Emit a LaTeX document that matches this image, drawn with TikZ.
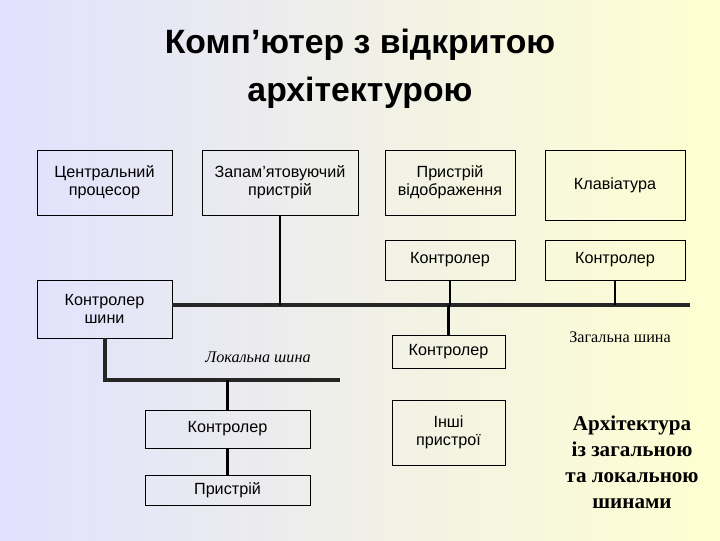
\documentclass[tikz,border=0pt]{standalone}
\usepackage{fontspec}
\setmainfont{Liberation Sans}
\newfontfamily\serif{Liberation Serif}
\begin{document}
\begin{tikzpicture}[x=0.025cm, y=-0.025cm,
  box/.style={draw=black, semithick, align=center, font=\fontsize{11.5}{13}\selectfont, inner sep=0pt},
  bus/.style={line width=2.4pt, draw=black!85},
  link/.style={line width=1.6pt, draw=black}]
\shade[left color=blue!12, right color=yellow!18] (0,0) rectangle (720,540);
\useasboundingbox (0,0) rectangle (720,540);
\node[font=\bfseries\fontsize{24}{34}\selectfont, align=center] (title) at (360,69) {Комп’ютер з відкритою\\архітектурою};
% upper row
\node[box, text width=135*0.025cm, minimum height=65*0.025cm] (cpu) at (104.5,182.5) {Центральний\\процесор};
\node[box, text width=156*0.025cm, minimum height=65*0.025cm] (mem) at (280,182.5) {Запам’ятовуючий\\пристрій};
\node[box, text width=130*0.025cm, minimum height=65*0.025cm] (disp) at (450,182.5) {Пристрій\\відображення};
\node[box, text width=140*0.025cm, minimum height=70*0.025cm] (kbd) at (615,185) {Клавіатура};
\node[box, text width=130*0.025cm, minimum height=40*0.025cm] (cdisp) at (450,260) {Контролер};
\node[box, text width=140*0.025cm, minimum height=40*0.025cm] (ckbd) at (615,260) {Контролер};
\node[box, text width=135*0.025cm, minimum height=58*0.025cm] (cbus) at (104.5,309) {Контролер\\шини};
% lower part
\node[box, text width=113*0.025cm, minimum height=33*0.025cm] (cother) at (448.5,351.5) {Контролер};
\node[box, text width=113*0.025cm, minimum height=65*0.025cm] (other) at (448.5,432.5) {Інші\\пристрої};
\node[box, text width=165*0.025cm, minimum height=38*0.025cm] (cloc) at (227.5,429) {Контролер};
\node[box, text width=165*0.025cm, minimum height=30*0.025cm] (dev) at (227.5,490) {Пристрій};
\node[font=\serif\itshape\fontsize{11.5}{13}\selectfont] (lbl) at (258,357) {Локальна шина};
\node[font=\serif\fontsize{11.5}{13}\selectfont] (gbl) at (620,337) {Загальна шина};
\node[font=\serif\bfseries\fontsize{15}{18.5}\selectfont, align=center] (cap) at (632,462) {Архітектура\\із загальною\\та локальною\\шинами};
% buses
\coordinate (b1) at (172,305);
\coordinate (b2) at (690,305);
\draw[bus] (b1) -- (b2);
\draw[link] (mem.south) -- (mem.south |- b1);
\draw[link] (cdisp.south) -- (cdisp.south |- b1);
\draw[link] (ckbd.south) -- (ckbd.south |- b1);
\draw[link] (cother.north) -- (cother.north |- b1);
\coordinate (l1) at (105,380);
\coordinate (l2) at (340,380);
\draw[bus] (cbus.south -| l1) -- (l1) -- (l2);
\draw[link] (cloc.north) -- (cloc.north |- l1);
\draw[link] (cloc.south) -- (dev.north);
\end{tikzpicture}
\end{document}
